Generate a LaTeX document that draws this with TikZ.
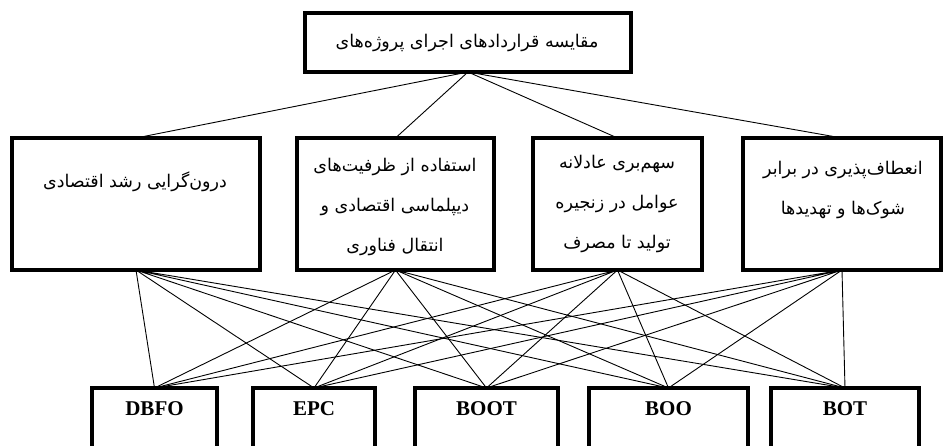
\documentclass[tikz,border=0pt]{standalone}
\usepackage{fontspec}
\setmainfont{Liberation Serif}
\newfontfamily\persianfont[Script=Arabic]{DejaVu Sans}
\TeXXeTstate=1
\usetikzlibrary{positioning}

\tikzset{
  goalbox/.style={draw, line width=3.4pt, outer sep=0pt, inner sep=0pt},
  critbox/.style={draw, line width=3.2pt, outer sep=0pt, inner sep=0pt, minimum height=132pt},
  altbox/.style={draw, line width=3.2pt, outer sep=0pt, inner sep=0pt, minimum height=80pt},
  fatxt/.style={align=center, font=\persianfont\fontsize{17.5}{40}\selectfont},
  altxt/.style={font=\fontsize{21}{24}\selectfont\bfseries},
  link/.style={line width=0.9pt}
}

\begin{document}
\begin{tikzpicture}[x=1pt, y=-1pt]
\useasboundingbox (0,0) rectangle (943,445);
\clip (0,0) rectangle (943,445);

% define nodes

% goal
\node[goalbox, minimum width=326pt, minimum height=59pt] (goal) at (468,42.5) {};
\node[fatxt] (goalt) at (467,43) {\beginR مقایسه قراردادهای اجرای پروژه‌های\endR};

% criteria
\node[critbox, minimum width=248pt] (k1) at (136,204) {};
\node[critbox, right=37pt of k1, minimum width=197pt] (k2) {};
\node[critbox, right=39pt of k2, minimum width=169pt] (k3) {};
\node[critbox, right=41pt of k3, minimum width=198pt] (k4) {};

\node[fatxt] (k1t) at (135,182) {\beginR درون‌گرایی رشد اقتصادی\endR};
\node[fatxt] (k2t) at (395,207) {\beginR استفاده از ظرفیت‌های\endR\\ \beginR دیپلماسی اقتصادی و\endR\\ \beginR انتقال فناوری\endR};
\node[fatxt] (k3t) at (617,204) {\beginR سهم‌بری عادلانه\endR\\ \beginR عوامل در زنجیره\endR\\ \beginR تولید تا مصرف\endR};
\node[fatxt] (k4t) at (843,190) {\beginR انعطاف‌پذیری در برابر\endR\\ \beginR شوک‌ها و تهدیدها\endR};

% alternatives
\node[altbox, minimum width=125pt] (dbfo) at (154.5,428) {};
\node[altbox, right=36pt of dbfo, minimum width=122pt] (epc) {};
\node[altbox, right=40pt of epc, minimum width=143pt] (boot) {};
\node[altbox, right=31pt of boot, minimum width=159pt] (boo) {};
\node[altbox, right=23pt of boo, minimum width=148pt] (bot) {};

\node[altxt] (dbfot) at ([yshift=-21pt]dbfo.north) {DBFO};
\node[altxt] (epct) at ([yshift=-21pt]epc.north) {EPC};
\node[altxt] (boott) at ([yshift=-21pt]boot.north) {BOOT};
\node[altxt] (boot2) at ([yshift=-21pt]boo.north) {BOO};
\node[altxt] (bott) at ([yshift=-21pt]bot.north) {BOT};

% edges

\draw[link] (goal.south) -- (k1.north) (goal.south) -- (k2.north)
            (goal.south) -- (k3.north) (goal.south) -- (k4.north);

\draw[link] (k1.south) -- (dbfo.north) (k1.south) -- (epc.north) (k1.south) -- (boot.north)
            (k1.south) -- (boo.north) (k1.south) -- (bot.north);
\draw[link] (k2.south) -- (dbfo.north) (k2.south) -- (epc.north) (k2.south) -- (boot.north)
            (k2.south) -- (boo.north) (k2.south) -- (bot.north);
\draw[link] (k3.south) -- (dbfo.north) (k3.south) -- (epc.north) (k3.south) -- (boot.north)
            (k3.south) -- (boo.north) (k3.south) -- (bot.north);
\draw[link] (k4.south) -- (dbfo.north) (k4.south) -- (epc.north) (k4.south) -- (boot.north)
            (k4.south) -- (boo.north) (k4.south) -- (bot.north);

\end{tikzpicture}
\end{document}
